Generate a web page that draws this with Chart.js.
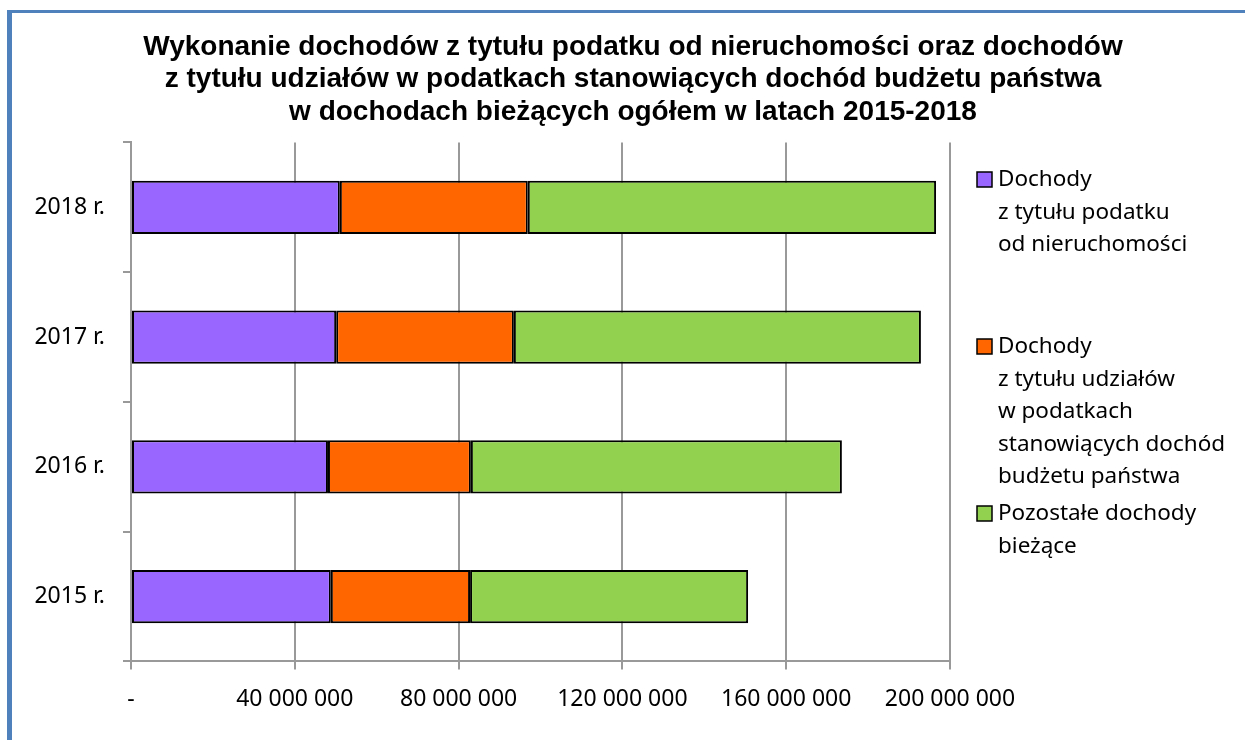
<!DOCTYPE html>
<html>
<head>
<meta charset="utf-8">
<script src="https://cdn.jsdelivr.net/npm/chart.js@4"></script>
<style>
    body { margin: 0; background: #fff; }
    #wrap { position: relative; width: 1245px; height: 740px; overflow: hidden; }
    #frame { position: absolute; left: 7px; top: 10px; width: 1300px; height: 800px;
             border-left: 5px solid #4F81BD; border-top: 3px solid #4F81BD; }
    #chart { position: absolute; left: 0; top: 0; }
</style>
</head>
<body>
<div id="wrap">
    <div id="frame"></div>
    <canvas id="chart" width="1245" height="740"></canvas>
</div>
<script>
// dane
const years = ['2015 r.', '2016 r.', '2017 r.', '2018 r.'];
const podatekNieruchomosci = [48800000, 48100000, 50100000, 51000000];
const udzialyWPodatkach = [34000000, 34900000, 43400000, 45900000];
const pozostaleDochody = [67900000, 90600000, 99400000, 99700000];
const xMax = 200000000;
const xStep = 40000000;

const titleLines = [
    'Wykonanie dochodów z tytułu podatku od nieruchomości oraz dochodów',
    'z tytułu udziałów w podatkach stanowiących dochód budżetu państwa',
    'w dochodach bieżących ogółem w latach 2015-2018'
];
const legendLines = [
    ['Dochody', 'z tytułu podatku', 'od nieruchomości'],
    ['Dochody', 'z tytułu udziałów', 'w podatkach', 'stanowiących dochód', 'budżetu państwa'],
    ['Pozostałe dochody', 'bieżące']
];

const fmt = v => v === 0 ? '-' : String(v).replace(/\B(?=(\d{3})+(?!\d))/g, ' ');

// legenda z zawijanym tekstem
const sideLegend = {
    id: 'sideLegend',
    afterDraw(chart) {
        const ctx = chart.ctx;
        const tops = [180, 347, 514];
        ctx.save();
        ctx.font = '22.5px "Noto Sans"';
        ctx.textBaseline = 'middle';
        ctx.fillStyle = '#000';
        chart.data.datasets.forEach((ds, i) => {
            const y0 = tops[i];
            ctx.fillStyle = ds.backgroundColor;
            ctx.fillRect(977, y0 - 8, 15, 15);
            ctx.strokeStyle = '#000';
            ctx.lineWidth = 1.5;
            ctx.strokeRect(977, y0 - 8, 15, 15);
            ctx.fillStyle = '#000';
            legendLines[i].forEach((line, k) => {
                ctx.fillText(line, 998, y0 + k * 32.5);
            });
        });
        ctx.restore();
    }
};

new Chart(document.getElementById('chart'), {
    type: 'bar',
    data: {
        labels: years,
        datasets: [
            {
                label: 'Dochody z tytułu podatku od nieruchomości',
                data: podatekNieruchomosci,
                backgroundColor: '#9966FF'
            },
            {
                label: 'Dochody z tytułu udziałów w podatkach stanowiących dochód budżetu państwa',
                data: udzialyWPodatkach,
                backgroundColor: '#FF6600'
            },
            {
                label: 'Pozostałe dochody bieżące',
                data: pozostaleDochody,
                backgroundColor: '#92D050'
            }
        ].map(ds => Object.assign(ds, {
            borderColor: '#000',
            borderWidth: 2,
            borderSkipped: false,
            categoryPercentage: 1,
            barPercentage: 0.41
        }))
    },
    options: {
        indexAxis: 'y',
        responsive: false,
        animation: false,
        layout: { padding: { left: 21, right: 0, top: 0, bottom: 11 } },
        scales: {
            x: {
                stacked: true,
                min: 0,
                max: xMax,
                ticks: {
                    stepSize: xStep,
                    color: '#000',
                    padding: 16,
                    font: { family: 'Noto Sans', size: 23 },
                    callback: v => fmt(v)
                },
                grid: {
                    color: '#999',
                    lineWidth: 2,
                    tickLength: 8,
                    tickColor: '#999'
                },
                border: { color: '#999', width: 2 }
            },
            y: {
                stacked: true,
                reverse: true,
                ticks: {
                    color: '#000',
                    padding: 18,
                    font: { family: 'Noto Sans', size: 23 }
                },
                grid: {
                    offset: true,
                    drawOnChartArea: false,
                    tickLength: 8,
                    color: '#999',
                    lineWidth: 2
                },
                border: { color: '#999', width: 2 },
                afterFit: axis => { axis.width = 110; }
            },
            side: {
                type: 'linear',
                position: 'right',
                display: true,
                ticks: { display: false },
                grid: { display: false },
                border: { display: false },
                afterFit: axis => { axis.width = 295; }
            }
        },
        plugins: {
            legend: { display: false },
            tooltip: { enabled: false },
            title: {
                display: true,
                text: titleLines,
                color: '#000',
                font: { family: 'Liberation Sans', size: 28, weight: 'bold', lineHeight: 1.16 },
                padding: { top: 31, bottom: 14 }
            }
        }
    },
    plugins: [sideLegend]
});
</script>
</body>
</html>
